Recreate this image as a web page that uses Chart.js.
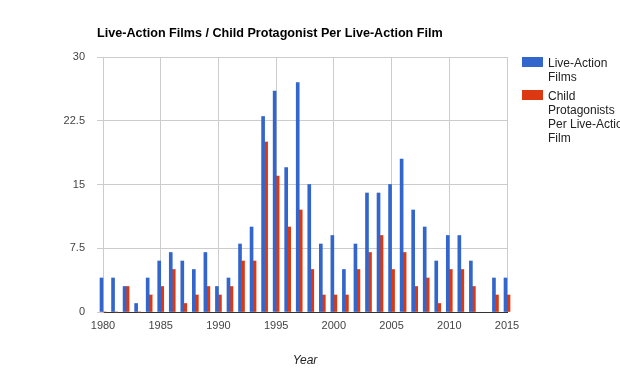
<!DOCTYPE html>
<html lang="en">
<head>
  <meta charset="UTF-8">
  <title>Live-Action Films</title>
  <style>
    body {
      margin: 0;
      padding: 0;
      background-color: #fff;
      font-family: Arial, 'Liberation Sans', sans-serif;
    }

    .wrap {
      position: relative;
      width: 620px;
      height: 372px;
      overflow: hidden;
    }

    .title {
      position: absolute;
      left: 97px;
      top: 26px;
      font-size: 12.6px;
      font-weight: bold;
      color: #000;
      white-space: nowrap;
    }

    .legend {
      position: absolute;
      left: 522px;
      top: 56px;
      font-size: 12px;
      line-height: 14px;
      color: #222;
    }

    .legend .item {
      position: relative;
      padding-left: 26px;
      margin-bottom: 5px;
      white-space: nowrap;
    }

    .legend .box {
      position: absolute;
      left: 0;
      top: 1px;
      width: 21px;
      height: 10px;
    }
  </style>
</head>
<body>

  <div class="wrap">
    <canvas id="chart" width="620" height="372"></canvas>
    <div class="title">Live-Action Films / Child Protagonist Per Live-Action Film</div>
    <div class="legend">
      <div class="item"><span class="box" style="background:#3366cc"></span>Live-Action<br>Films</div>
      <div class="item"><span class="box" style="background:#dc3912"></span>Child<br>Protagonists<br>Per Live-Action<br>Film</div>
    </div>
  </div>

  <script src="https://cdn.jsdelivr.net/npm/chart.js"></script>
  <script>
    const years = [1980, 1981, 1982, 1983, 1984, 1985, 1986, 1987, 1988, 1989,
                   1990, 1991, 1992, 1993, 1994, 1995, 1996, 1997, 1998, 1999,
                   2000, 2001, 2002, 2003, 2004, 2005, 2006, 2007, 2008, 2009,
                   2010, 2011, 2012, 2013, 2014, 2015];
    const liveActionFilms = [4, 4, 3, 1, 4, 6, 7, 6, 5, 7,
                             3, 4, 8, 10, 23, 26, 17, 27, 15, 8,
                             9, 5, 8, 14, 14, 15, 18, 12, 10, 6,
                             9, 9, 6, null, 4, 4];
    const childProtagonists = [0, 0, 3, 0, 2, 3, 5, 1, 2, 3,
                               2, 3, 6, 6, 20, 16, 10, 12, 5, 2,
                               2, 2, 5, 7, 9, 5, 7, 3, 4, 1,
                               5, 5, 3, null, 2, 2];
    const yTicks = [0, 7.5, 15, 22.5, 30];
    const xTicks = [1980, 1985, 1990, 1995, 2000, 2005, 2010, 2015];

    const toPoints = values => years.map((yr, i) => ({ x: yr, y: values[i] }));

    const ctx = document.getElementById('chart').getContext('2d');
    new Chart(ctx, {
      type: 'bar',
      data: {
        datasets: [{
          label: 'Live-Action Films',
          data: toPoints(liveActionFilms),
          backgroundColor: '#3366cc',
          barThickness: 3,
          clip: false
        }, {
          label: 'Child Protagonists Per Live-Action Film',
          data: toPoints(childProtagonists),
          backgroundColor: '#dc3912',
          barThickness: 3,
          clip: false
        }]
      },
      options: {
        responsive: false,
        animation: false,
        layout: {
          padding: { top: 57, right: 113, bottom: 0, left: 0 }
        },
        plugins: {
          legend: { display: false },
          title: { display: false },
          tooltip: { enabled: false }
        },
        scales: {
          x: {
            type: 'linear',
            offset: false,
            min: 1980,
            max: 2015,
            afterBuildTicks: scale => {
              scale.ticks = xTicks.map(v => ({ value: v }));
            },
            afterFit: scale => { scale.height = 60; },
            ticks: {
              color: '#444',
              font: { family: 'Arial', size: 11 },
              padding: 7,
              maxRotation: 0,
              callback: v => String(v)
            },
            grid: {
              offset: false,
              color: '#ccc',
              drawTicks: false
            },
            border: { color: '#333' },
            title: {
              display: true,
              text: 'Year',
              color: '#222',
              font: { family: 'Arial', size: 12, style: 'italic' },
              padding: { top: 0, bottom: 4 }
            }
          },
          y: {
            min: 0,
            max: 30,
            afterBuildTicks: scale => {
              scale.ticks = yTicks.map(v => ({ value: v }));
            },
            afterFit: scale => { scale.width = 103; },
            ticks: {
              color: '#444',
              font: { family: 'Arial', size: 11 },
              padding: 12
            },
            grid: {
              color: '#ccc',
              tickLength: 6,
              tickColor: '#ccc'
            },
            border: { color: '#ccc' }
          }
        }
      }
    });
  </script>

</body>
</html>
